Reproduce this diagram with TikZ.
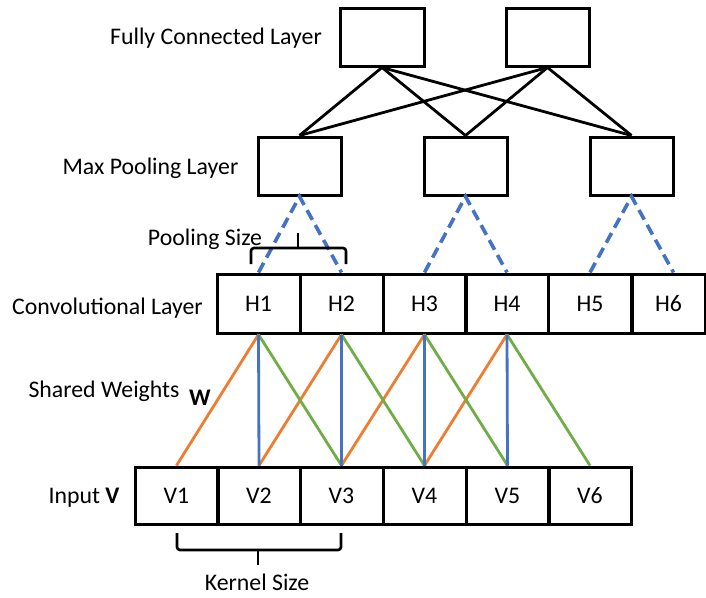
\documentclass[tikz,border=0pt]{standalone}
\usepackage{fontspec}
\setmainfont{Carlito}
\definecolor{orng}{HTML}{ED7D31}
\definecolor{blu}{HTML}{4472C4}
\definecolor{grn}{HTML}{70AD47}
\begin{document}
\begin{tikzpicture}[x=1pt,y=-1pt,
  font=\fontsize{23.8}{28}\selectfont,
  box/.style={draw=black, line width=3pt, minimum width=83pt, minimum height=58pt, inner sep=0pt},
  fcline/.style={draw=black, line width=2.8pt},
  poolline/.style={draw=blu, line width=3.6pt, dash pattern=on 11pt off 6pt},
  wline/.style={line width=2.8pt},
  bracestyle/.style={draw=black, line width=2.6pt, rounded corners=3pt},
  lbl/.style={inner sep=0pt}]
\useasboundingbox (0,0) rectangle (706,597);

% Fully connected
\node[box, minimum width=84pt] (fc1) at (382,37) {};
\node[box] (fc2) at (547.5,37) {};
% Pooling
\node[box] (p1) at (299.5,166) {};
\node[box] (p2) at (465.5,166) {};
\node[box] (p3) at (631.5,166) {};
% Convolutional
\node[box, minimum height=59pt] (h1) at (258.5,303.5) {H1};
\node[box, minimum height=59pt] (h2) at (341.5,303.5) {H2};
\node[box, minimum height=59pt] (h3) at (424.5,303.5) {H3};
\node[box, minimum height=59pt] (h4) at (507,303.5) {H4};
\node[box, minimum height=59pt] (h5) at (590,303.5) {H5};
\node[box, minimum height=59pt, minimum width=73pt] (h6) at (668.5,303.5) {H6};
% Input
\node[box, minimum height=57pt] (v1) at (176.5,495.5) {V1};
\node[box, minimum height=57pt] (v2) at (259,495.5) {V2};
\node[box, minimum height=57pt] (v3) at (341.5,495.5) {V3};
\node[box, minimum height=57pt] (v4) at (424.5,495.5) {V4};
\node[box, minimum height=57pt] (v5) at (507.5,495.5) {V5};
\node[box, minimum height=57pt] (v6) at (590,495.5) {V6};

% FC connections
\foreach \f in {fc1,fc2}{
  \foreach \p in {p1,p2,p3}{
    \draw[fcline] (\f.south) -- (\p.north);
  }
}
% Pooling dashed
\draw[poolline] (h1.north) -- (p1.south) -- (h2.north);
\draw[poolline] (h3.north) -- (p2.south) -- (h4.north);
\draw[poolline] (h5.north) -- (p3.south) -- ([xshift=5pt]h6.north);

% Shared weights
\draw[wline, draw=orng] (h1.south) -- (v1.north);
\draw[wline, draw=orng] (h2.south) -- (v2.north);
\draw[wline, draw=orng] (h3.south) -- (v3.north);
\draw[wline, draw=orng] (h4.south) -- (v4.north);
\draw[wline, draw=grn] (h1.south) -- (v3.north);
\draw[wline, draw=grn] (h2.south) -- (v4.north);
\draw[wline, draw=grn] (h3.south) -- (v5.north);
\draw[wline, draw=grn] (h4.south) -- (v6.north);
\draw[wline, draw=blu] (h1.south) -- (v2.north);
\draw[wline, draw=blu] (h2.south) -- (v3.north);
\draw[wline, draw=blu] (h3.south) -- (v4.north);
\draw[wline, draw=blu] (h4.south) -- (v5.north);

% Braces
\draw[bracestyle] (251,264) -- (251,248) -- (346,248) -- (346,264);
\draw[bracestyle] (298,248) -- (298,233);
\draw[bracestyle] (177,533) -- (177,550) -- (341,550) -- (341,533);
\draw[bracestyle] (258,550) -- (258,565);

% Labels
\node[lbl] (tfc) at (216,38) {Fully Connected Layer};
\node[lbl] (tmp) at (150.5,168) {Max Pooling Layer};
\node[lbl] (tps) at (205,239) {Pooling Size};
\node[lbl] (tcl) at (107.5,308) {Convolutional Layer};
\node[lbl] (tsw) at (104,391) {Shared Weights};
\node[lbl] (tw) at (200,398) {\textbf{W}};
\node[lbl] (tin) at (84,498) {Input \textbf{V}};
\node[lbl] (tks) at (257,582) {Kernel Size};
\end{tikzpicture}
\end{document}
